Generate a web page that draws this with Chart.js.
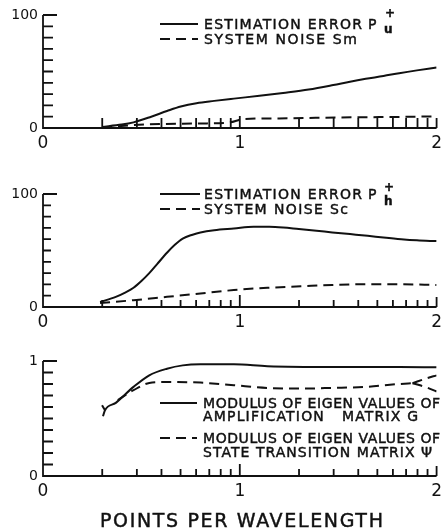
<!DOCTYPE html>
<html><head><meta charset="utf-8">
<script src="https://cdn.jsdelivr.net/npm/chart.js@4"></script>
<style>
html,body{margin:0;padding:0;background:#fff;width:447px;height:532px;overflow:hidden}
.p{position:absolute;left:0;width:447px}
</style></head><body>
<div class="p" style="top:0;height:170px"><canvas id="c1"></canvas></div>
<div class="p" style="top:170px;height:170px"><canvas id="c2"></canvas></div>
<div class="p" style="top:340px;height:192px"><canvas id="c3"></canvas></div>
<script>
// ---------- data ----------
const xTickValues = [0, 1, 2];
const xTickLabels = ['0', '1', '2'];
const xMinorTicks = [0.301,0.477,0.602,0.699,0.778,0.845,0.903,0.954,1,1.301,1.477,1.602,1.699,1.778,1.845,1.903,1.954,2];

// panel 1
const p1EstX = [0.30,0.40,0.46,0.55,0.63,0.70,0.78,0.87,0.97,1.10,1.22,1.35,1.475,1.56,1.64,1.73,1.81,1.90,2.00];
const p1EstY = [1,3,5,10,15,19,22,24,26,28.5,31,34,38,41,43.5,46,48.5,51,53.5];
const p1NoiseX = [0.30,0.45,0.60,0.80,0.95,1.02,1.20,1.50,1.80,2.00];
const p1NoiseY = [0.5,2.5,3.5,4,5,8,8.5,9.3,9.8,10.3];
const p1YTicks = [0,100];
const p1YLabels = ['0','100'];
const p1Legend = ['ESTIMATION ERROR', 'P', '+', 'u', 'SYSTEM NOISE Sm'];

// panel 2
const p2EstX = [0.29,0.37,0.42,0.46,0.50,0.54,0.58,0.63,0.67,0.71,0.76,0.80,0.87,0.97,1.07,1.15,1.22,1.30,1.39,1.47,1.56,1.65,1.73,1.82,1.90,2.00];
const p2EstY = [4.4,9,13,17,23,30,38,48,55,60.5,64,66,68,69.5,71,71,70.4,69,67.5,66,64.5,63,61.5,60,59,58.3];
const p2NoiseX = [0.29,0.46,0.63,0.80,0.97,1.14,1.31,1.47,1.64,1.81,2.00];
const p2NoiseY = [3.6,6,9,12,15,17,18.3,19.5,20.1,20.1,19.5];
const p2YTicks = [0,100];
const p2YLabels = ['0','100'];
const p2Legend = ['ESTIMATION ERROR', 'P', '+', 'h', 'SYSTEM NOISE Sc'];

// panel 3
const p3GX = [0.305,0.315,0.37,0.46,0.54,0.63,0.71,0.80,0.97,1.14,1.47,1.81,2.00];
const p3GY = [0.52,0.572,0.636,0.775,0.876,0.933,0.962,0.971,0.971,0.955,0.948,0.948,0.945];
const p3GBranchX = [0.315,0.300];
const p3GBranchY = [0.572,0.616];
const p3PsiX = [0.38,0.46,0.54,0.63,0.80,0.97,1.14,1.31,1.47,1.64,1.81,1.878];
const p3PsiY = [0.66,0.746,0.809,0.818,0.812,0.789,0.766,0.760,0.766,0.775,0.800,0.807];
const p3PsiUpX = [1.878,1.95,2.00];
const p3PsiUpY = [0.807,0.85,0.875];
const p3PsiLowX = [1.878,1.95,2.00];
const p3PsiLowY = [0.807,0.77,0.735];
const p3YTicks = [0,1];
const p3YLabels = ['0','1'];
const p3Legend = ['MODULUS OF EIGEN VALUES OF','AMPLIFICATION   MATRIX G','MODULUS OF EIGEN VALUES OF','STATE TRANSITION MATRIX \u03A8'];
const xTitle = 'POINTS PER WAVELENGTH';

// ---------- helpers ----------
const FAM = '"DejaVu Sans", "Liberation Sans", sans-serif';
const INK = '#111';
const pts = (xs, ys) => xs.map((x, i) => ({x, y: ys[i]}));
const solid = (xs, ys) => ({data: pts(xs, ys), borderColor: INK, borderWidth: 2, pointRadius: 0, fill: false, cubicInterpolationMode: 'monotone'});
const dashed = (xs, ys) => ({data: pts(xs, ys), borderColor: INK, borderWidth: 2, borderDash: [10, 6], pointRadius: 0, fill: false, cubicInterpolationMode: 'monotone'});

function fitText(ctx, s, x, yBase, w, size, weight) {
  ctx.font = (weight || '') + ' ' + size + 'px ' + FAM;
  ctx.letterSpacing = '0px';
  ctx.textAlign = 'left';
  ctx.textBaseline = 'alphabetic';
  if (w) {
    const m = ctx.measureText(s).width;
    ctx.letterSpacing = ((w - m) / Math.max(1, s.length - 1)).toFixed(2) + 'px';
  }
  ctx.fillText(s, x, yBase);
  ctx.lineWidth = 0.45;
  ctx.strokeText(s, x, yBase);
  ctx.letterSpacing = '0px';
}

const axisPlugin = {
  id: 'axisPlugin',
  afterDatasetsDraw(chart, args, o) {
    const {ctx, chartArea: a, scales: {x, y}} = chart;
    const off = o.top;
    ctx.save();
    ctx.strokeStyle = INK; ctx.lineWidth = 1.8; ctx.setLineDash([]);
    ctx.beginPath();
    ctx.moveTo(a.left, a.top); ctx.lineTo(a.left, a.bottom); ctx.lineTo(a.right, a.bottom);
    for (let i = 0; i <= 10; i++) {
      const v = o.yMax * i / 10;
      const py = y.getPixelForValue(v);
      const len = i === 10 ? 14 : (i === 0 ? 0 : o.yLen);
      ctx.moveTo(a.left, py); ctx.lineTo(a.left + len, py);
    }
    xMinorTicks.forEach(v => {
      const px = x.getPixelForValue(v);
      const len = v === 1 ? 12 : (v === 2 ? 10 : o.xLen);
      ctx.moveTo(px, a.bottom); ctx.lineTo(px, a.bottom - len);
    });
    ctx.stroke();
    ctx.lineWidth = 2;
    o.samples.forEach(s => {
      ctx.setLineDash(s.dash ? [10, 6] : []);
      ctx.beginPath(); ctx.moveTo(s.x1, s.y - off); ctx.lineTo(s.x2, s.y - off); ctx.stroke();
    });
    ctx.setLineDash([]);
    ctx.fillStyle = INK;
    o.texts.forEach(t => fitText(ctx, t.s, t.x, t.y - off, t.w, t.size, t.weight));
    ctx.restore();
  }
};

function makeChart(id, datasets, yMax, yTickVals, yTickLabs, padTop, xH, po) {
  return new Chart(document.getElementById(id), {
    type: 'line',
    data: {datasets},
    plugins: [axisPlugin],
    options: {
      responsive: true, maintainAspectRatio: false, animation: false,
      layout: {padding: {top: padTop, right: 10, left: 0, bottom: 0}},
      plugins: {legend: {display: false}, tooltip: {enabled: false}, axisPlugin: Object.assign({yMax}, po)},
      scales: {
        x: {
          type: 'linear', min: 0, max: 2,
          afterBuildTicks: s => { s.ticks = xTickValues.map(v => ({value: v})); },
          afterFit: s => { s.height = xH; },
          ticks: {callback: (v, i) => xTickLabels[i], font: {size: 17, family: FAM}, color: INK, padding: 5, maxRotation: 0, autoSkip: false},
          grid: {display: false, drawTicks: false}, border: {display: false}
        },
        y: {
          type: 'linear', min: 0, max: yMax,
          afterBuildTicks: s => { s.ticks = yTickVals.map(v => ({value: v})); },
          afterFit: s => { s.width = 43; },
          ticks: {callback: (v, i) => yTickLabs[i], font: {size: 14, family: FAM}, color: INK, padding: 5, autoSkip: false},
          grid: {display: false, drawTicks: false}, border: {display: false}
        }
      }
    }
  });
}

makeChart('c1', [solid(p1EstX, p1EstY), dashed(p1NoiseX, p1NoiseY)], 100, p1YTicks, p1YLabels, 15, 42, {
  top: 0, yLen: 10, xLen: 10,
  samples: [{x1: 160, x2: 198, y: 24, dash: false}, {x1: 160, x2: 198, y: 39, dash: true}],
  texts: [
    {s: p1Legend[0], x: 204, y: 29, w: 158, size: 14},
    {s: p1Legend[1], x: 368, y: 29, size: 14},
    {s: p1Legend[2], x: 385, y: 17, size: 12, weight: 'bold'},
    {s: p1Legend[3], x: 384, y: 33, size: 12, weight: 'bold'},
    {s: p1Legend[4], x: 204, y: 44, w: 153, size: 14}
  ]
});

makeChart('c2', [solid(p2EstX, p2EstY), dashed(p2NoiseX, p2NoiseY)], 100, p2YTicks, p2YLabels, 24, 33, {
  top: 170, yLen: 8, xLen: 7,
  samples: [{x1: 160, x2: 200, y: 194, dash: false}, {x1: 160, x2: 200, y: 209, dash: true}],
  texts: [
    {s: p2Legend[0], x: 204, y: 199, w: 158, size: 14},
    {s: p2Legend[1], x: 368, y: 199, size: 14},
    {s: p2Legend[2], x: 384, y: 191, size: 12, weight: 'bold'},
    {s: p2Legend[3], x: 384, y: 205, size: 12, weight: 'bold'},
    {s: p2Legend[4], x: 204, y: 214, w: 144, size: 14}
  ]
});

makeChart('c3', [solid(p3GX, p3GY), solid(p3GBranchX, p3GBranchY), dashed(p3PsiX, p3PsiY), dashed(p3PsiUpX, p3PsiUpY), dashed(p3PsiLowX, p3PsiLowY)], 1, p3YTicks, p3YLabels, 21, 56, {
  top: 340, yLen: 10, xLen: 7,
  samples: [{x1: 160, x2: 197, y: 403, dash: false}, {x1: 160, x2: 197, y: 438, dash: true}],
  texts: [
    {s: p3Legend[0], x: 203, y: 408, w: 237, size: 14},
    {s: p3Legend[1], x: 203, y: 421, w: 215, size: 14},
    {s: p3Legend[2], x: 203, y: 443, w: 237, size: 14},
    {s: p3Legend[3], x: 203, y: 457, w: 229, size: 14},
    {s: xTitle, x: 100, y: 527, w: 283, size: 19}
  ]
});
</script>
</body></html>
